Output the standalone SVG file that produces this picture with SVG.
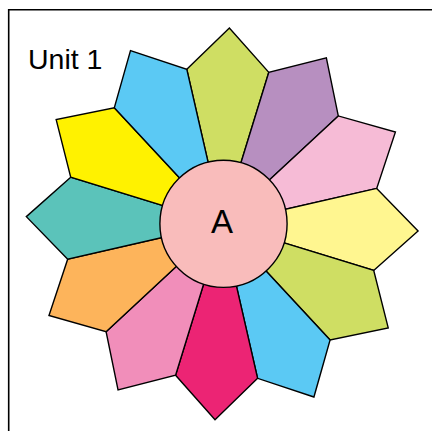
<svg xmlns="http://www.w3.org/2000/svg" width="432" height="431" viewBox="0 0 432 431">
<style>
.p{stroke:#000;stroke-width:1.4;stroke-linejoin:miter}
.t{font-family:"Liberation Sans",Arial,sans-serif;fill:#000}
</style>
<rect width="432" height="431" fill="#fff"/>
<path d="M8.7,431 V9.8 H432" fill="none" stroke="#000" stroke-width="1.6"/>
<text class="t" x="28" y="69.3" font-size="28.5">Unit 1</text>
<g id="petals">
<g id="petal0"><polygon class="p" fill="#CFDE63" points="222.2,223.8 186.81,69.29 229.38,27.93 268.80,72.31"/></g>
<g id="petal1"><polygon class="p" fill="#B78FC0" points="222.2,223.8 268.80,72.31 326.35,57.77 338.30,115.91"/></g>
<g id="petal2"><polygon class="p" fill="#F6BBD6" points="222.2,223.8 338.30,115.91 395.42,132.09 376.71,188.41"/></g>
<g id="petal3"><polygon class="p" fill="#FFF690" points="222.2,223.8 376.71,188.41 418.07,230.98 373.69,270.40"/></g>
<g id="petal4"><polygon class="p" fill="#CFDE63" points="222.2,223.8 373.69,270.40 388.23,327.95 330.09,339.90"/></g>
<g id="petal5"><polygon class="p" fill="#5BC9F4" points="222.2,223.8 330.09,339.90 313.91,397.02 257.59,378.31"/></g>
<g id="petal6"><polygon class="p" fill="#EC2474" points="222.2,223.8 257.59,378.31 215.02,419.67 175.60,375.29"/></g>
<g id="petal7"><polygon class="p" fill="#F18EBA" points="222.2,223.8 175.60,375.29 118.05,389.83 106.10,331.69"/></g>
<g id="petal8"><polygon class="p" fill="#FDB45B" points="222.2,223.8 106.10,331.69 48.98,315.51 67.69,259.19"/></g>
<g id="petal9"><polygon class="p" fill="#5BC3BA" points="222.2,223.8 67.69,259.19 26.33,216.62 70.71,177.20"/></g>
<g id="petal10"><polygon class="p" fill="#FFF200" points="222.2,223.8 70.71,177.20 56.17,119.65 114.31,107.70"/></g>
<g id="petal11"><polygon class="p" fill="#5BC9F4" points="222.2,223.8 114.31,107.70 130.49,50.58 186.81,69.29"/></g>
</g>
<g id="centerA">
<circle cx="223.5" cy="223.8" r="63.6" fill="#F9BCBB" stroke="#000" stroke-width="1.4"/>
<text class="t" x="222" y="233.3" font-size="33" text-anchor="middle">A</text>
</g>
</svg>
